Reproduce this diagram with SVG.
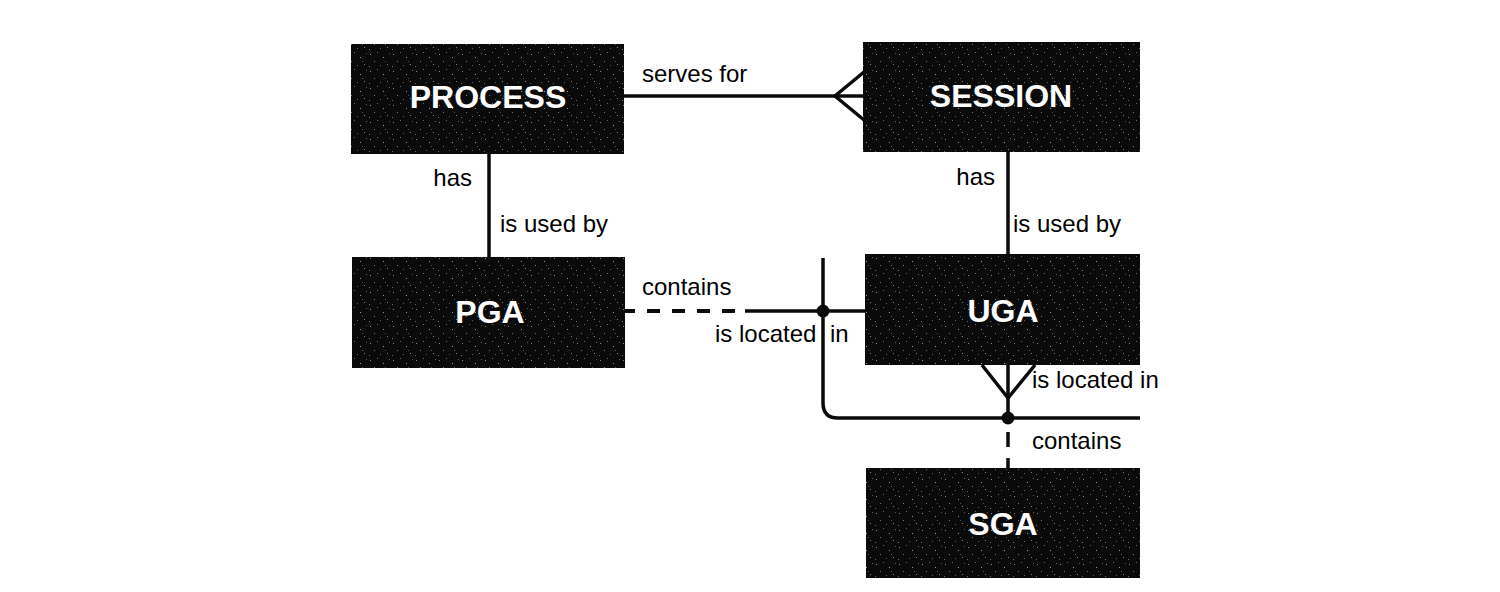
<svg xmlns="http://www.w3.org/2000/svg" width="1500" height="592" viewBox="0 0 1500 592">
  <style>
    .box { fill: url(#speckle); }
    .name { font-family: "Liberation Sans", Arial, sans-serif; font-weight: bold; font-size: 32px; fill: #ffffff; text-anchor: middle; }
    .lbl { font-family: "Liberation Sans", Arial, sans-serif; font-size: 24px; fill: #000000; }
    .end { text-anchor: end; }
    .ln { stroke: #0a0a0a; stroke-width: 3.5; fill: none; }
    .dash { stroke-dasharray: 13 12; stroke-width: 4; }
    .dot { fill: #0a0a0a; }
  </style>
  <defs>
    <!-- dark fill with a sparse grey speckle -->
    <pattern id="speckle" width="23" height="17" patternUnits="userSpaceOnUse">
      <rect width="23" height="17" fill="#0a0a0a"/>
      <rect x="2" y="3" width="1" height="1" fill="#8a8a8a"/>
      <rect x="9" y="1" width="1" height="1" fill="#6a6a6a"/>
      <rect x="15" y="6" width="1" height="1" fill="#9a9a9a"/>
      <rect x="6" y="10" width="1" height="1" fill="#767676"/>
      <rect x="19" y="13" width="1" height="1" fill="#808080"/>
      <rect x="12" y="14" width="1" height="1" fill="#606060"/>
      <rect x="21" y="2" width="1" height="1" fill="#5a5a5a"/>
      <rect x="1" y="15" width="1" height="1" fill="#6a6a6a"/>
      <rect x="17" y="10" width="1" height="1" fill="#555555"/>
    </pattern>
  </defs>
  <rect width="1500" height="592" fill="#ffffff"/>

  <g id="connectors">
    <!-- PROCESS serves for SESSION (many) -->
    <line class="ln" x1="623" y1="96" x2="864" y2="96"/>
    <polyline class="ln" points="864,72 835,96 864,120"/>
    <!-- PROCESS has PGA -->
    <line class="ln" x1="489" y1="152" x2="489" y2="258"/>
    <!-- SESSION has UGA -->
    <line class="ln" x1="1008" y1="152" x2="1008" y2="256"/>
    <!-- PGA / UGA containment -->
    <line class="ln dash" x1="622" y1="311" x2="740" y2="311"/>
    <line class="ln" x1="745" y1="311" x2="866" y2="311"/>
    <path class="ln" d="M823,258 V403 Q823,418 838,418 H1140"/>
    <circle class="dot" cx="823" cy="311" r="6.5"/>
    <!-- UGA (many) located in SGA -->
    <polyline class="ln" points="982,365 1008,398 1035,365"/>
    <line class="ln" x1="1008" y1="365" x2="1008" y2="418"/>
    <circle class="dot" cx="1008" cy="418" r="6.5"/>
    <line class="ln" x1="1008" y1="432" x2="1008" y2="469" stroke-dasharray="15 11" stroke-width="4"/>
  </g>

  <g id="labels">
    <text class="lbl" x="642" y="82">serves for</text>
    <text class="lbl end" x="472" y="186">has</text>
    <text class="lbl" x="500" y="232">is used by</text>
    <text class="lbl end" x="995" y="185">has</text>
    <text class="lbl" x="1013" y="232">is used by</text>
    <text class="lbl" x="642" y="295">contains</text>
    <text class="lbl" x="715" y="342">is located</text>
    <text class="lbl" x="830" y="342">in</text>
    <text class="lbl" x="1032" y="388">is located in</text>
    <text class="lbl" x="1032" y="449">contains</text>
  </g>

  <g id="process">
    <rect class="box" x="351" y="44" width="273" height="110"/>
    <text class="name" x="488" y="108">PROCESS</text>
  </g>
  <g id="session">
    <rect class="box" x="863" y="42" width="277" height="110"/>
    <text class="name" x="1001" y="107">SESSION</text>
  </g>
  <g id="pga">
    <rect class="box" x="352" y="257" width="273" height="111"/>
    <text class="name" x="490" y="323">PGA</text>
  </g>
  <g id="uga">
    <rect class="box" x="865" y="254" width="275" height="111"/>
    <text class="name" x="1003" y="322">UGA</text>
  </g>
  <g id="sga">
    <rect class="box" x="866" y="468" width="274" height="110"/>
    <text class="name" x="1003" y="535">SGA</text>
  </g>
</svg>
